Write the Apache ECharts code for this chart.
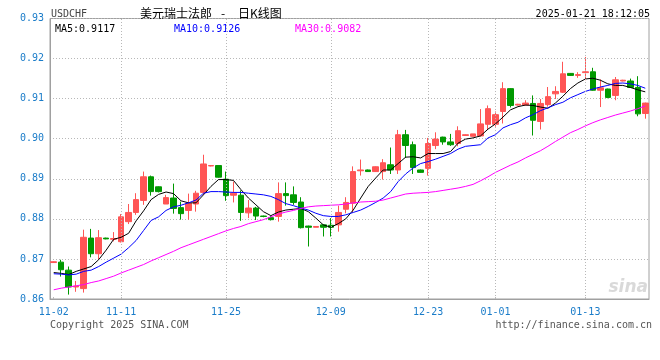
<!DOCTYPE html>
<html><head><meta charset="utf-8">
<script src="https://cdn.jsdelivr.net/npm/echarts@6/dist/echarts.min.js"></script>
<style>html,body{margin:0;padding:0;background:#fff}#c{width:660px;height:360px}</style>
</head><body><div id="c"></div>
<script>
const dates = ['11-02','11-03','11-04','11-05','11-06','11-07','11-08','11-09','11-10','11-11','11-12','11-13','11-14','11-15','11-16','11-17','11-18','11-19','11-20','11-21','11-22','11-23','11-24','11-25','11-26','11-27','11-28','11-29','11-30','12-01','12-02','12-03','12-04','12-05','12-06','12-07','12-08','12-09','12-10','12-11','12-12','12-14','12-15','12-16','12-17','12-18','12-19','12-20','12-21','12-22','12-23','12-24','12-25','12-26','12-27','12-28','12-29','12-30','12-31','01-01','01-02','01-03','01-04','01-05','01-06','01-07','01-08','01-09','01-10','01-11','01-12','01-13','01-14','01-15','01-16','01-17','01-18','01-19','01-20','01-21'];
const labelDates = ['11-02','11-11','11-25','12-09','12-23','01-01','01-13'];
const opens = [.8691,.8692,.8672,.8630,.8626,.8752,.8713,.8752,.8749,.8743,.8793,.8816,.8846,.8905,.8880,.8837,.8852,.8828,.8821,.8837,.8866,.8932,.8933,.8899,.8859,.8859,.8815,.8827,.8807,.8803,.8806,.8863,.8860,.8842,.8782,.8779,.8785,.8784,.8785,.8824,.8839,.8920,.8922,.8918,.8918,.8935,.8922,.9010,.8985,.8922,.8926,.8983,.9004,.8992,.8988,.9008,.9006,.9007,.9036,.9036,.9068,.9125,.9084,.9084,.9088,.9043,.9085,.9112,.9116,.9163,.9158,.9165,.9167,.9121,.9124,.9108,.9144,.9144,.9128,.9063];
const closes = [.8693,.8673,.8630,.8632,.8754,.8713,.8753,.8750,.8751,.8805,.8816,.8848,.8905,.8868,.8868,.8853,.8826,.8813,.8839,.8864,.8937,.8933,.8904,.8858,.8864,.8816,.8827,.8807,.8806,.8798,.8863,.8858,.8841,.8778,.8779,.8781,.8779,.8779,.8816,.8841,.8918,.8922,.8918,.8930,.8940,.8922,.9010,.8983,.8928,.8916,.8988,.8999,.8992,.8985,.9020,.9010,.9012,.9037,.9075,.9060,.9125,.9083,.9086,.9089,.9046,.9088,.9105,.9118,.9162,.9158,.9160,.9167,.9121,.9127,.9103,.9147,.9146,.9128,.9062,.9089];
const lows = [.8690,.8656,.8611,.8618,.8616,.8704,.8699,.8749,.8744,.8741,.8787,.8810,.8835,.8858,.8866,.8837,.8813,.8798,.8798,.8818,.8860,.8931,.8903,.8845,.8841,.8795,.8802,.8797,.8804,.8796,.8793,.8833,.8835,.8776,.8731,.8779,.8756,.8756,.8768,.8814,.8816,.8908,.8917,.8917,.8898,.8912,.8912,.8952,.8912,.8915,.8908,.8974,.8985,.8982,.8981,.9007,.9006,.9006,.9022,.9030,.9038,.9078,.9083,.9082,.9008,.9023,.9080,.9099,.9114,.9157,.9152,.9146,.9120,.9079,.9101,.9096,.9143,.9127,.9056,.9050];
const highs = [.8694,.8698,.8681,.8645,.8773,.8775,.8772,.8753,.8767,.8812,.8837,.8864,.8918,.8908,.8881,.8860,.8888,.8843,.8863,.8870,.8960,.8934,.8933,.8918,.8893,.8871,.8847,.8830,.8808,.8807,.8891,.8891,.8881,.8854,.8783,.8781,.8786,.8802,.8833,.8854,.8931,.8948,.8923,.8931,.8949,.8978,.9022,.9022,.8993,.8923,.9002,.9016,.9005,.9012,.9031,.9011,.9012,.9074,.9083,.9068,.9141,.9126,.9087,.9096,.9108,.9099,.9129,.9131,.9192,.9164,.9166,.9204,.9177,.9148,.9125,.9154,.9147,.9150,.9156,.9090];
const ma5 = [.8666,.8664,.8661,.8669,.8675,.8681,.8698,.8722,.8749,.8754,.8764,.8795,.8820,.8848,.8861,.8867,.8863,.8845,.8840,.8840,.8860,.8881,.8898,.8898,.8896,.8873,.8852,.8835,.8818,.8808,.8817,.8822,.8824,.8826,.8818,.8802,.8785,.8779,.8788,.8800,.8822,.8852,.8881,.8902,.8922,.8922,.8938,.8954,.8955,.8952,.8963,.8963,.8963,.8968,.8989,.8999,.9002,.9007,.9024,.9037,.9054,.9072,.9080,.9084,.9083,.9079,.9076,.9089,.9106,.9125,.9139,.9149,.9151,.9146,.9137,.9133,.9133,.9128,.9122,.9117];
const ma10 = [.8663,.8662,.8660,.8662,.8669,.8672,.8681,.8692,.8702,.8712,.8728,.8746,.8771,.8796,.8805,.8821,.8830,.8834,.8840,.8847,.8864,.8868,.8868,.8867,.8866,.8866,.8864,.8862,.8860,.8856,.8848,.8838,.8833,.8827,.8822,.8814,.8808,.8806,.8806,.8810,.8816,.8822,.8831,.8841,.8852,.8868,.8893,.8912,.8927,.8938,.8943,.8949,.8956,.8963,.8974,.8981,.8983,.8985,.9002,.9010,.9027,.9035,.9041,.9052,.9060,.9070,.9077,.9085,.9091,.9102,.9110,.9118,.9124,.9129,.9133,.9138,.9139,.9137,.9133,.9126];
const ma30 = [.8623,.8627,.8630,.8633,.8636,.8641,.8645,.8651,.8657,.8665,.8672,.8679,.8686,.8695,.8703,.8711,.8719,.8728,.8735,.8742,.8749,.8756,.8763,.8770,.8776,.8781,.8788,.8793,.8798,.8805,.8812,.8817,.8821,.8826,.8830,.8832,.8833,.8834,.8835,.8837,.8840,.8842,.8843,.8844,.8847,.8852,.8857,.8862,.8864,.8865,.8866,.8868,.8871,.8874,.8877,.8881,.8886,.8895,.8905,.8916,.8925,.8934,.8942,.8952,.8961,.8970,.8981,.8993,.9004,.9015,.9023,.9032,.9040,.9047,.9053,.9059,.9064,.9069,.9075,.9082];
const yTicks = [0.86, 0.87, 0.88, 0.89, 0.90, 0.91, 0.92, 0.93];

const RED = '#ff5555', GREEN = '#009900', BLUE_TXT = '#1a7cc9';
const MONO = '"DejaVu Sans Mono", "Liberation Mono", monospace';
const candles = opens.map((o, i) => [o, closes[i], lows[i], highs[i]]);
const labelIdx = new Set(labelDates.map(d => dates.indexOf(d)));
const last = a => a[a.length - 1].toFixed(4);

const chart = echarts.init(document.getElementById('c'), null, {renderer: 'canvas'});
chart.setOption({
  animation: false,
  backgroundColor: '#fff',
  grid: {left: 50, right: 11, top: 18.5, bottom: 61, show: true, borderColor: '#a0a0a0', borderWidth: 1},
  xAxis: {
    type: 'category', data: dates, boundaryGap: true,
    axisLine: {lineStyle: {color: '#a0a0a0'}},
    axisTick: {show: true, inside: true, length: 2, alignWithLabel: true, interval: i => labelIdx.has(i), lineStyle: {color: '#bbb'}},
    axisLabel: {interval: i => labelIdx.has(i), color: BLUE_TXT, fontFamily: MONO, fontSize: 10, margin: 8},
    splitLine: {show: false}
  },
  yAxis: {
    type: 'value', min: yTicks[0], max: yTicks[yTicks.length - 1], interval: 0.01,
    axisLine: {show: true, lineStyle: {color: '#a0a0a0'}},
    axisTick: {show: false},
    axisLabel: {color: BLUE_TXT, fontFamily: MONO, fontSize: 10, margin: 6, formatter: v => v.toFixed(2)},
    splitLine: {show: true, lineStyle: {color: '#b8b8b8', type: [1, 2], width: 1}}
  },
  series: [
    {
      type: 'candlestick', data: candles, barWidth: 6,
      itemStyle: {color: RED, color0: GREEN, borderColor: RED, borderColor0: GREEN, borderWidth: 1},
      markLine: {
        silent: true, symbol: ['none', 'none'], label: {show: false},
        lineStyle: {color: '#b8b8b8', type: [1, 2], width: 1},
        data: labelDates.slice(1).map(d => ({xAxis: d}))
      }
    },
    {type: 'line', data: ma5, showSymbol: false, lineStyle: {color: '#000', width: 1}, itemStyle: {color: '#000'}},
    {type: 'line', data: ma10, showSymbol: false, lineStyle: {color: '#0000ff', width: 1}, itemStyle: {color: '#0000ff'}},
    {type: 'line', data: ma30, showSymbol: false, lineStyle: {color: '#ff00ff', width: 1}, itemStyle: {color: '#ff00ff'}}
  ],
  graphic: [
    {type: 'text', left: 51, top: 9, style: {text: 'USDCHF', fill: '#444', font: '10px ' + MONO}},
    {type: 'text', left: 140, top: 7, style: {text: '美元瑞士法郎', fill: '#000', font: '12px "Noto Sans CJK SC"'}},
    {type: 'text', left: 221, top: 7, style: {text: '-', fill: '#000', font: '12px "Noto Sans CJK SC"'}},
    {type: 'text', left: 238, top: 7, style: {text: '日K线图', fill: '#000', font: '12px "Noto Sans CJK SC"'}},
    {type: 'text', right: 10, top: 9, style: {text: '2025-01-21 18:12:05', fill: '#000', font: '10px ' + MONO}},
    {type: 'text', left: 55, top: 24, style: {text: 'MA5:' + last(ma5), fill: '#000', font: '10px ' + MONO}},
    {type: 'text', left: 174, top: 24, style: {text: 'MA10:' + last(ma10), fill: '#0000ff', font: '10px ' + MONO}},
    {type: 'text', left: 295, top: 24, style: {text: 'MA30:' + last(ma30), fill: '#ff00ff', font: '10px ' + MONO}},
    {type: 'text', left: 50, top: 320, style: {text: 'Copyright 2025 SINA.COM', fill: '#555', font: '10px ' + MONO}},
    {type: 'text', right: 8, top: 320, style: {text: 'http://finance.sina.com.cn', fill: '#555', font: '10px ' + MONO}},
    {type: 'text', right: 12, top: 279, style: {text: 'sina', fill: 'rgba(170,170,170,0.45)', font: 'italic bold 17px "DejaVu Sans"'}}
  ]
});
</script></body></html>
